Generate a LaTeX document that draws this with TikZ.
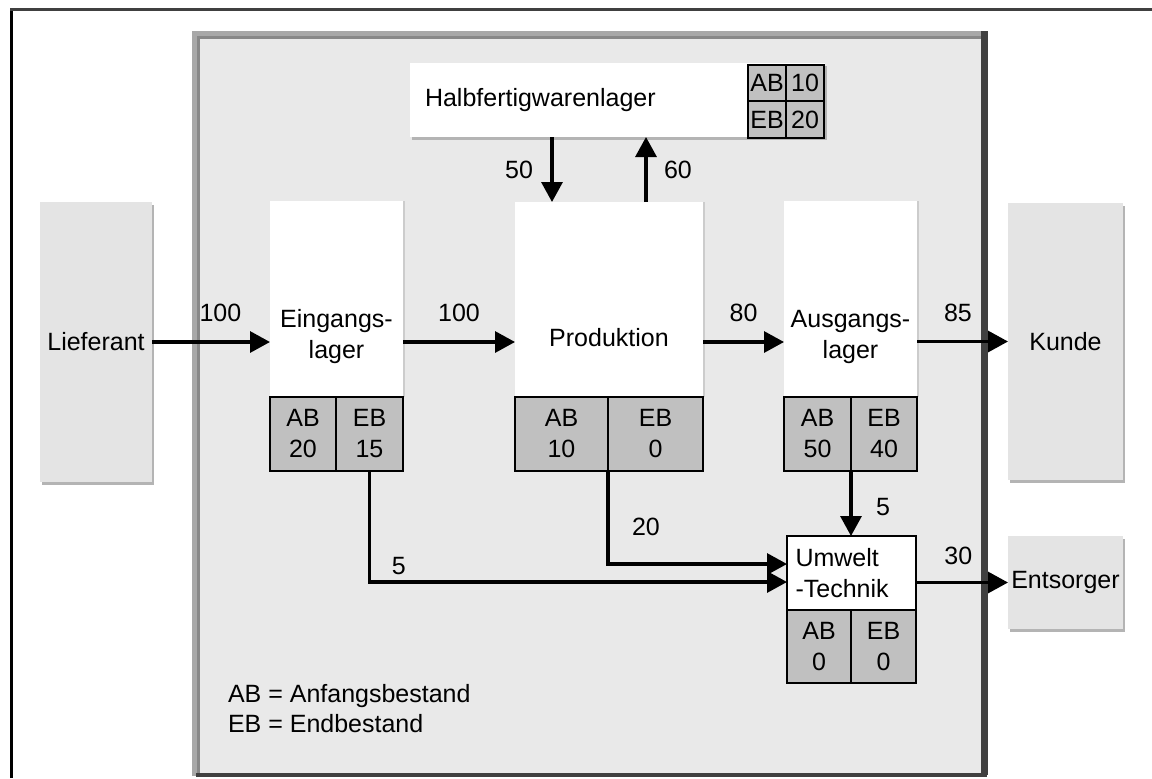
\documentclass[tikz,border=0pt]{standalone}
\usepackage{fontspec}
\setmainfont{Liberation Sans}
\usetikzlibrary{positioning,arrows.meta,shadows}

\definecolor{panelgray}{HTML}{E9E9E9}
\definecolor{partnergray}{HTML}{E4E4E4}
\definecolor{cellgray}{HTML}{C0C0C0}
\definecolor{framedark}{HTML}{404040}
\definecolor{framelight}{HTML}{A8A8A8}
\definecolor{framemid}{HTML}{888888}
\definecolor{shadowgray}{HTML}{B4B4B4}

\begin{document}
\begin{tikzpicture}[x=0.5pt,y=-0.5pt,
      every node/.style={font=\fontsize{12.5}{15.5}\selectfont,inner sep=0pt,outer sep=0pt},
      partner/.style={fill=partnergray,anchor=north west,
        general shadow={fill=shadowgray,shadow xshift=1pt,shadow yshift=-1.5pt}},
      lager/.style={fill=white,anchor=north west,
        general shadow={fill=black!20,shadow xshift=0.75pt}},
      lagertext/.style={align=center,yshift=-19pt},
      bestand/.style={draw,line width=1.2pt,fill=cellgray,align=center,minimum height=37pt},
      flow/.style={line width=1.6pt,-{Triangle[length=10pt,width=10.5pt]}},
      menge/.style={inner sep=2pt}]

      \useasboundingbox (0,0) rectangle (1152,778);

      % Rahmen und Betrieb
      \draw[line width=1.5pt] (11,778) -- (11,9);
      \draw[line width=1.5pt,framedark] (10.25,9) -- (1152,9);
      \fill[panelgray] (192,31) rectangle (987,776);
      \draw[line width=2.5pt,framelight] (194.5,776) -- (194.5,33.5) -- (987,33.5);
      \draw[line width=1.5pt,framemid] (198.5,773) -- (198.5,37.5) -- (981,37.5);
      \draw[line width=3.5pt,framedark] (984,775) -- (984,31);
      \draw[line width=2pt,framedark] (196,775) -- (987,775);

      \node[partner,minimum width=56pt,minimum height=140pt] (lieferant) at (40,202) {Lieferant};
      \node[partner,minimum width=57.5pt,minimum height=138.5pt] (kunde) at (1008,203) {Kunde};
      \node[partner,minimum width=57.5pt,minimum height=46.5pt] (entsorger) at (1008,536) {Entsorger};

      \node[lager,minimum width=66.5pt,minimum height=98pt,
        label={[lagertext]center:{Eingangs-\\lager}}] (eingang) at (270,201) {};
      \node[lager,minimum width=94pt,minimum height=97.5pt,
        label={[lagertext]center:Produktion}] (produktion) at (515,202) {};
      \node[lager,minimum width=66.5pt,minimum height=98pt,
        label={[lagertext]center:{Ausgangs-\\lager}}] (ausgang) at (784,201) {};
      \node[fill=white,draw,line width=1pt,anchor=north west,minimum width=64.5pt,
        minimum height=37pt,text width=56pt,align=left] (umwelt) at (787,536) {Umwelt\\-Technik};
      \node[partner,fill=white,minimum width=207.5pt,minimum height=37pt,
        text width=192.5pt,align=left] (halb) at (410,63) {Halbfertigwarenlager};

      % Bestaende
      \node[bestand,minimum width=33pt,anchor=north west] (eingAB) at (eingang.south west) {AB\\20};
      \node[bestand,minimum width=33.5pt,right=0pt of eingAB] (eingEB) {EB\\15};
      \node[bestand,minimum width=46.5pt,anchor=north west] (prodAB) at (produktion.south west) {AB\\10};
      \node[bestand,minimum width=47.5pt,right=0pt of prodAB] (prodEB) {EB\\0};
      \node[bestand,minimum width=33.5pt,anchor=north west] (ausgAB) at (ausgang.south west) {AB\\50};
      \node[bestand,minimum width=33pt,right=0pt of ausgAB] (ausgEB) {EB\\40};
      \node[bestand,minimum width=32pt,minimum height=36.5pt,anchor=north west] (umwAB) at (umwelt.south west) {AB\\0};
      \node[bestand,minimum width=32.5pt,minimum height=36.5pt,right=0pt of umwAB] (umwEB) {EB\\0};
      \node[bestand,minimum width=19pt,minimum height=18pt,anchor=north east] (halbAv)
        at ([shift={(-0.5pt,-1pt)}]halb.north east) {10};
      \node[bestand,minimum width=19pt,minimum height=18pt,left=0pt of halbAv] (halbA) {AB};
      \node[bestand,minimum width=19pt,minimum height=18.5pt,below=0pt of halbAv] (halbEv) {20};
      \node[bestand,minimum width=19pt,minimum height=18.5pt,below=0pt of halbA] (halbE) {EB};

      \node[anchor=west,align=left,font=\fontsize{12.5}{15}\selectfont] (legende) at (228,709)
        {AB = Anfangsbestand\\EB = Endbestand};

      % Mengenfluss
      \draw[flow] (lieferant.east) -- node[menge,above=8pt,pos=0.58] {100} (lieferant.east -| eingang.west);
      \draw[flow] (eingang.east |- lieferant) -- node[menge,above=8pt] {100} (produktion.west |- lieferant);
      \draw[flow] (produktion.east |- lieferant) -- node[menge,above=8pt] {80} (ausgang.west |- lieferant);
      \draw[flow] (ausgang.east |- kunde) -- node[menge,above=8pt,pos=0.45] {85} (kunde.west);
      \draw[flow] (umwelt.east |- entsorger) -- node[menge,above=7pt,pos=0.46] {30} (entsorger.west);

      \coordinate (rein) at ([xshift=18.5pt]produktion.north west);
      \coordinate (raus) at ([xshift=-28.5pt]produktion.north east);
      \draw[flow] (halb.south -| rein) -- node[menge,left=7.5pt] {50} (rein);
      \draw[flow] (raus) -- node[menge,right=7pt] {60} (halb.south -| raus);

      \draw[flow] (ausgAB.south east) -- node[menge,right=10.5pt,pos=0.55] {5} (ausgAB.south east |- umwelt.north);
      \draw[flow] (prodAB.south east) |- node[menge,pos=0.3,right=10pt] {20} ([yshift=4.5pt]umwelt.west);
      \draw[flow] (eingEB.south) |- node[menge,pos=0.535,above=1.5pt] {5} ([yshift=-4.5pt]umwelt.west);

    \end{tikzpicture}
\end{document}
